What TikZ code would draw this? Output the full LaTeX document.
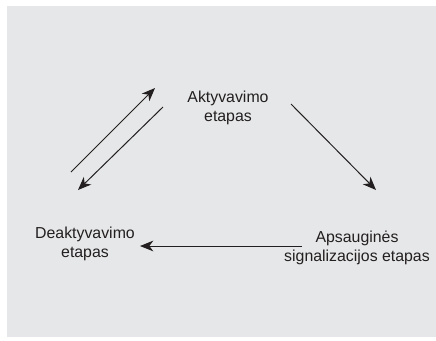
\documentclass[tikz,border=0pt]{standalone}
\usepackage{fontspec}
\setmainfont{Liberation Sans}
\usetikzlibrary{arrows.meta}
\definecolor{bg}{HTML}{E6E7E8}
\definecolor{ink}{HTML}{231F20}
\begin{document}
\begin{tikzpicture}[x=0.75pt,y=-0.75pt,
  lbl/.style={align=center,text=ink,font=\fontsize{11.9}{13.7}\selectfont,inner sep=0pt},
  conn/.style={draw=ink,line width=0.75pt,-{Stealth[length=10pt,width=8pt,inset=3pt]}}]
\useasboundingbox (0,0) rectangle (436,340);
\fill[bg] (7,6) rectangle (436,337);
\node[lbl] (akt) at (228,108) {Aktyvavimo\\etapas};
\node[lbl] (deakt) at (85,244) {Deaktyvavimo\\etapas};
\node[lbl] (aps) at (357,248) {Apsauginės\\signalizacijos etapas};
\coordinate (u1) at (71,172);
\coordinate (u2) at (155,88);
\coordinate (d1) at (163,107);
\coordinate (d2) at (78,190);
\coordinate (r1) at (291,104);
\coordinate (r2) at (376,190);
\coordinate (h1) at (302,246);
\coordinate (h2) at (140,246);
\draw[conn] (u1) -- (u2);
\draw[conn] (d1) -- (d2);
\draw[conn] (r1) -- (r2);
\draw[conn] (h1) -- (h2);
\end{tikzpicture}
\end{document}
